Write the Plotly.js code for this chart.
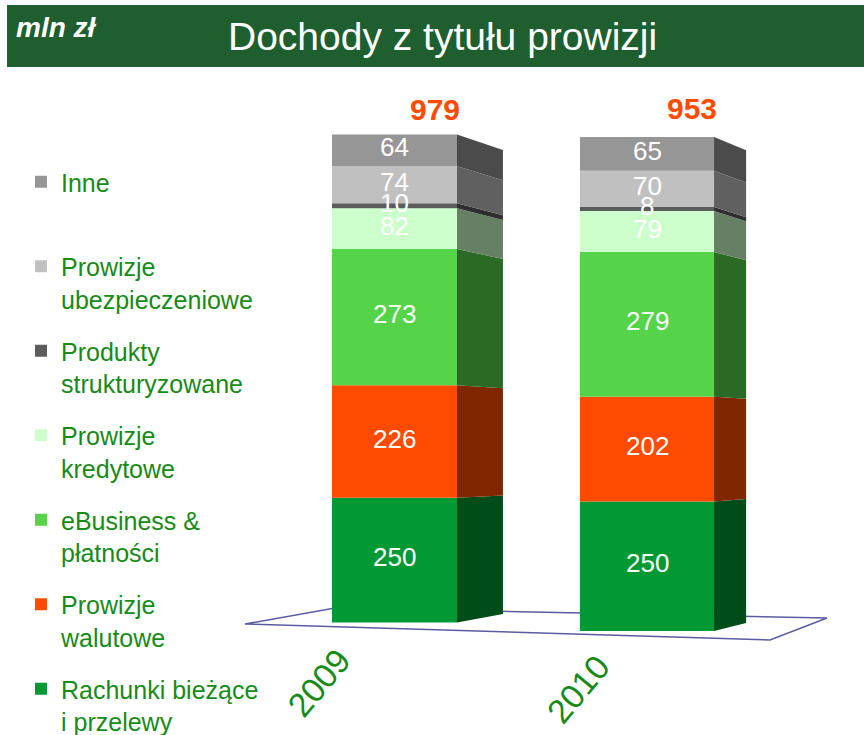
<!DOCTYPE html>
<html>
<head>
<meta charset="utf-8">
<script src="https://cdn.plot.ly/plotly-3.0.1.min.js"></script>
<style>html,body{margin:0;padding:0;background:#fff;overflow:hidden;}#chart{width:864px;height:735px;}</style>
</head>
<body>
<div id="chart"></div>
<script>
// ---- data ----
const categories = ['2009', '2010'];
const seriesNames = ['Rachunki bieżące<br>i przelewy', 'Prowizje<br>walutowe', 'eBusiness &<br>płatności',
  'Prowizje<br>kredytowe', 'Produkty<br>strukturyzowane', 'Prowizje<br>ubezpieczeniowe', 'Inne<br>\u00a0'];
const rachunki = [250, 250];
const walutowe = [226, 202];
const ebusiness = [273, 279];
const kredytowe = [82, 79];
const produkty = [10, 8];
const ubezpieczeniowe = [74, 70];
const inne = [64, 65];
const totals = [979, 953];

// ---- styles ----
const frontColors = ['#009933', '#ff4b00', '#55d449', '#ccffcc', '#5c5c5c', '#c0c0c0', '#969696'];
const sideColors  = ['#004d1a', '#802600', '#2b6a25', '#668066', '#2e2e2e', '#606060', '#4b4b4b'];
const green = '#178a17';
const FONT = 'Liberation Sans, Arial, sans-serif';
// per-bar 3D look (front width, side depth, back edge offset & scale)
const geom = [
  {x: 0, w: 0.495, d: 0.182, b: 17, s: 0.951, ya: 'y',  xs: 40, ys: 6,  lx: -76, ly: 0.071},
  {x: 1, w: 0.531, d: 0.127, b: 15.4, s: 0.957, ya: 'y2', xs: 45, ys: 10, lx: -69, ly: 0.063}
];

const series = [rachunki, walutowe, ebusiness, kredytowe, produkty, ubezpieczeniowe, inne];
const traces = [];
const sides = [];
const valueLabels = [];
categories.forEach((cat, j) => {
  const g = geom[j];
  let cum = 0;
  series.forEach((vals, i) => {
    const v = vals[j];
    const c0 = cum, c1 = cum + v;
    traces.push({
      type: 'bar', x: [g.x], y: [v], base: [c0], width: [g.w],
      yaxis: g.ya, name: seriesNames[i], legendgroup: 'g' + i, legendrank: 10 - i, showlegend: j === 0,
      marker: {color: frontColors[i], line: {width: 0}},
      hoverinfo: 'skip'
    });
    const xr = g.x + g.w / 2;
    sides.push({
      type: 'scatter', mode: 'lines', yaxis: g.ya, showlegend: false, hoverinfo: 'skip',
      x: [xr, xr + g.d, xr + g.d, xr, xr],
      y: [c0, g.b + g.s * c0, g.b + g.s * c1, c1, c0],
      fill: 'toself', fillcolor: sideColors[i], line: {width: 0, color: sideColors[i]}
    });
    valueLabels.push({text: String(v), xref: 'x', yref: g.ya, x: g.x, y: (c0 + c1) / 2, yshift: 3,
      xanchor: 'center', yanchor: 'middle', showarrow: false,
      font: {family: FONT, size: 26, color: '#ffffff'}});
    cum = c1;
  });
});

const annotations = [
  {text: '<b><i>mln zł</i></b>', xref: 'paper', yref: 'paper', x: 14 / 864, y: 1 - 28 / 735,
   xanchor: 'left', yanchor: 'middle', showarrow: false, font: {family: FONT, size: 28, color: '#ffffff'}},
  {text: 'Dochody z tytułu prowizji', xref: 'paper', yref: 'paper', x: 442 / 864, y: 1 - 36 / 735,
   xanchor: 'center', yanchor: 'middle', showarrow: false, font: {family: FONT, size: 39, color: '#ffffff'}}
].concat(valueLabels);
categories.forEach((cat, j) => {
  const g = geom[j];
  annotations.push({text: '<b>' + totals[j] + '</b>', xref: 'x', yref: g.ya, x: g.x, y: totals[j],
    xshift: g.xs, yshift: g.ys, xanchor: 'center', yanchor: 'bottom', showarrow: false,
    font: {family: FONT, size: 30, color: '#ff4b00'}});
  annotations.push({text: cat, xref: 'x', yref: 'paper', x: g.x, y: g.ly, xshift: g.lx,
    xanchor: 'center', yanchor: 'middle', textangle: -50, showarrow: false,
    font: {family: FONT, size: 34, color: green}});
});

const layout = {
  width: 864, height: 735,
  margin: {l: 0, r: 0, t: 0, b: 0, autoexpand: false},
  paper_bgcolor: '#ffffff', plot_bgcolor: 'rgba(0,0,0,0)',
  barmode: 'overlay',
  xaxis: {domain: [0, 1], range: [-1.5624, 1.8594], visible: false, fixedrange: true},
  yaxis: {domain: [0, 1], range: [-225.7, 1248.7], visible: false, fixedrange: true},
  yaxis2: {domain: [0, 1], range: [-200.6, 1217.2], overlaying: 'y', visible: false, fixedrange: true},
  showlegend: true,
  legend: {x: 21 / 864, xanchor: 'left', y: 1 - 159 / 735, yanchor: 'top',
    traceorder: 'grouped', valign: 'top', tracegroupgap: 16.5, itemwidth: 30,
    bgcolor: 'rgba(0,0,0,0)', font: {family: FONT, size: 25, color: green}},
  shapes: [
    {type: 'rect', xref: 'paper', yref: 'paper', x0: 7 / 864, x1: 1, y0: 1 - 67 / 735, y1: 1 - 5 / 735,
     fillcolor: '#1e5e2f', line: {width: 0}, layer: 'below'},
    {type: 'path', xref: 'paper', yref: 'paper', layer: 'below',
     path: 'M ' + (245/864) + ' ' + (1-624/735) + ' L ' + (335/864) + ' ' + (1-608/735) +
           ' L ' + (827/864) + ' ' + (1-618/735) + ' L ' + (770/864) + ' ' + (1-640/735) + ' Z',
     line: {color: '#5b5ba0', width: 1.5}, fillcolor: 'rgba(0,0,0,0)'}
  ],
  annotations: annotations
};

Plotly.newPlot('chart', traces.concat(sides), layout, {displayModeBar: false, staticPlot: true});
</script>
</body>
</html>
